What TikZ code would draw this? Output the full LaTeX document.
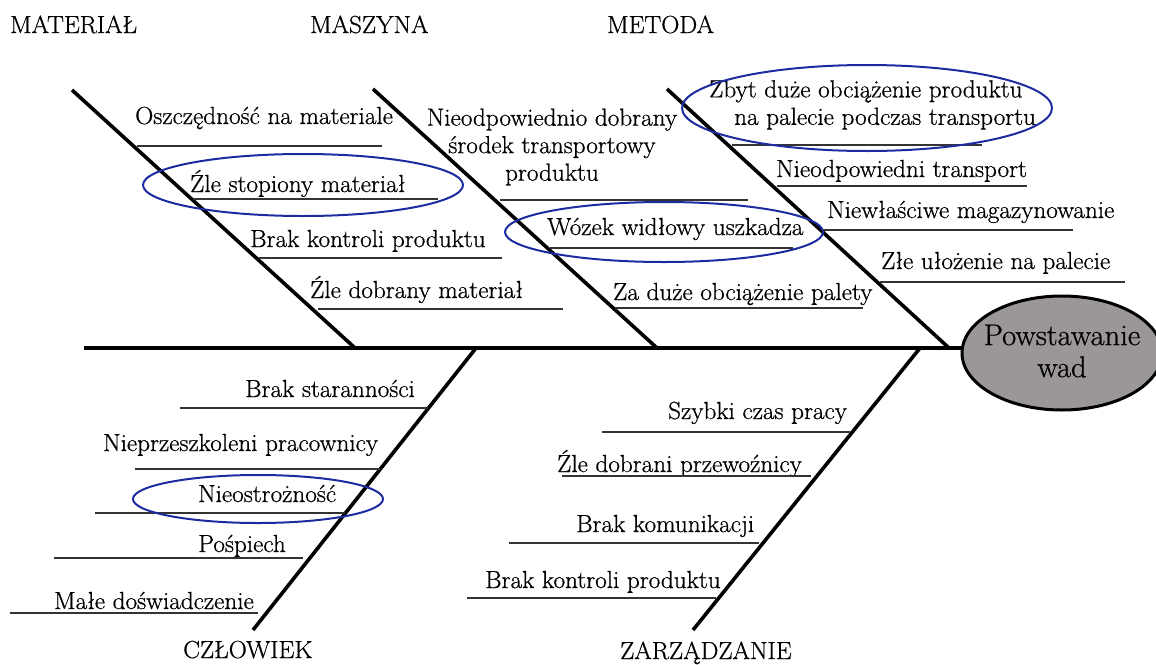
\documentclass[tikz,border=0pt]{standalone}
\usepackage{fontspec}
\setmainfont{Latin Modern Roman}[FakeStretch=1.02, FakeBold=0.7]
\usetikzlibrary{shapes.geometric}
\definecolor{ringblue}{RGB}{28,44,160}
\definecolor{headgray}{RGB}{156,151,151}
\begin{document}
\begin{tikzpicture}[x=1pt,y=-1pt,
  lbl/.style={font=\fontsize{24.7}{27.5}\selectfont, inner sep=0pt, anchor=base west},
  ml/.style={font=\fontsize{24.7}{27.5}\selectfont, inner sep=0pt, align=center},
  cat/.style={font=\fontsize{24.7}{27.5}\selectfont, inner sep=0pt, anchor=base west},
  uline/.style={line width=1.2pt, draw=black!80},
  bone/.style={line width=3.6pt},
  spine/.style={line width=4pt},
  ring/.style={draw=ringblue, line width=2pt},
  head/.style={ellipse, draw=black, line width=3pt, fill=headgray, minimum width=200pt,
    minimum height=114pt, inner sep=0pt},
  headtext/.style={inner sep=0pt, align=center, font=\fontsize{30}{32}\selectfont},
]
\useasboundingbox (0,0) rectangle (1156,664);

% head and spine
\node[head] (head) at (1062,353) {};
\node[headtext] (headtxt) at (1062,351) {Powstawanie\\wad};
\coordinate (tail) at (84,348);
\draw[spine] (tail) -- (tail -| head.west);

% bone coordinates
\coordinate (b1top) at (72,90);   \coordinate (b1bot) at (355,348);
\coordinate (b2top) at (373,89);  \coordinate (b2bot) at (657,348);
\coordinate (b3top) at (667,89);  \coordinate (b3bot) at (949,348);
\coordinate (b4top) at (476,348); \coordinate (b4bot) at (253,630);
\coordinate (b5top) at (920,348); \coordinate (b5bot) at (693,630);
\draw[bone] (b1top) -- (b1bot);
\draw[bone] (b2top) -- (b2bot);
\draw[bone] (b3top) -- (b3bot);
\draw[bone] (b4top) -- (b4bot);
\draw[bone] (b5top) -- (b5bot);

% category labels
\node[cat] (cMat) at (10,33) {MATERIAŁ};
\node[cat] (cMasz) at (310,33) {MASZYNA};
\node[cat] (cMet) at (607,33) {METODA};
\node[cat] (cCzl) at (183,658) {CZŁOWIEK};
\node[cat] (cZarz) at (620,659) {ZARZĄDZANIE};

% MATERIAL
\node[lbl] (a1) at (135,124) {Oszczędność na materiale};
\draw[uline] (137,146) -- (382,146);
\node[lbl] (a2) at (190,192) {Źle stopiony materiał};
\draw[uline] (193,199) -- (438,199);
\node[lbl] (a3) at (250,247) {Brak kontroli produktu};
\draw[uline] (258,258) -- (502,258);
\node[lbl] (a4) at (310,298) {Źle dobrany materiał};
\draw[uline] (318,309) -- (563,309);
\draw[ring] (303,185) ellipse [x radius=160, y radius=31];

% MASZYNA
\node[ml] (m1) at (552,147) {Nieodpowiednio dobrany\\środek transportowy\\produktu};
\draw[uline] (500,200) -- (748,200);
\node[lbl] (m2) at (547,235) {Wózek widłowy uszkadza};
\draw[uline] (550,248) -- (793,248);
\node[lbl] (m3) at (613,300) {Za duże obciążenie palety};
\draw[uline] (615,308) -- (863,308);
\draw[ring] (664,232) ellipse [x radius=159, y radius=30];

% METODA
\node[ml, align=left, anchor=north west] (t1) at (709,80) {Zbyt duże obciążenie produktu\\\hspace*{25pt}na palecie podczas transportu};
\draw[uline] (732,145) -- (982,145);
\node[lbl] (t2) at (776,177) {Nieodpowiedni transport};
\draw[uline] (777,186) -- (1027,186);
\node[lbl] (t3) at (827,218) {Niewłaściwe magazynowanie};
\draw[uline] (823,230) -- (1073,230);
\node[lbl] (t4) at (881,269) {Złe ułożenie na palecie};
\draw[uline] (880,282) -- (1125,282);
\draw[ring] (867,108) ellipse [x radius=185, y radius=43];

% CZLOWIEK
\node[lbl] (h1) at (245,397) {Brak staranności};
\draw[uline] (180,408) -- (428,408);
\node[lbl] (h2) at (103,451) {Nieprzeszkoleni pracownicy};
\draw[uline] (135,469) -- (380,469);
\node[lbl] (h3) at (198,502) {Nieostrożność};
\draw[uline] (95,513) -- (345,513);
\node[lbl] (h4) at (198,552) {Pośpiech};
\draw[uline] (54,558) -- (303,558);
\node[lbl] (h5) at (54,609) {Małe doświadczenie};
\draw[uline] (10,613) -- (258,613);
\draw[ring] (258,499) ellipse [x radius=125, y radius=24];

% ZARZADZANIE
\node[lbl] (z1) at (668,419) {Szybki czas pracy};
\draw[uline] (602,432) -- (850,432);
\node[lbl] (z2) at (557,472) {Źle dobrani przewoźnicy};
\draw[uline] (562,476) -- (811,476);
\node[lbl] (z3) at (576,532) {Brak komunikacji};
\draw[uline] (509,543) -- (759,543);
\node[lbl] (z4) at (485,588) {Brak kontroli produktu};
\draw[uline] (467,598) -- (716,598);
\end{tikzpicture}
\end{document}
